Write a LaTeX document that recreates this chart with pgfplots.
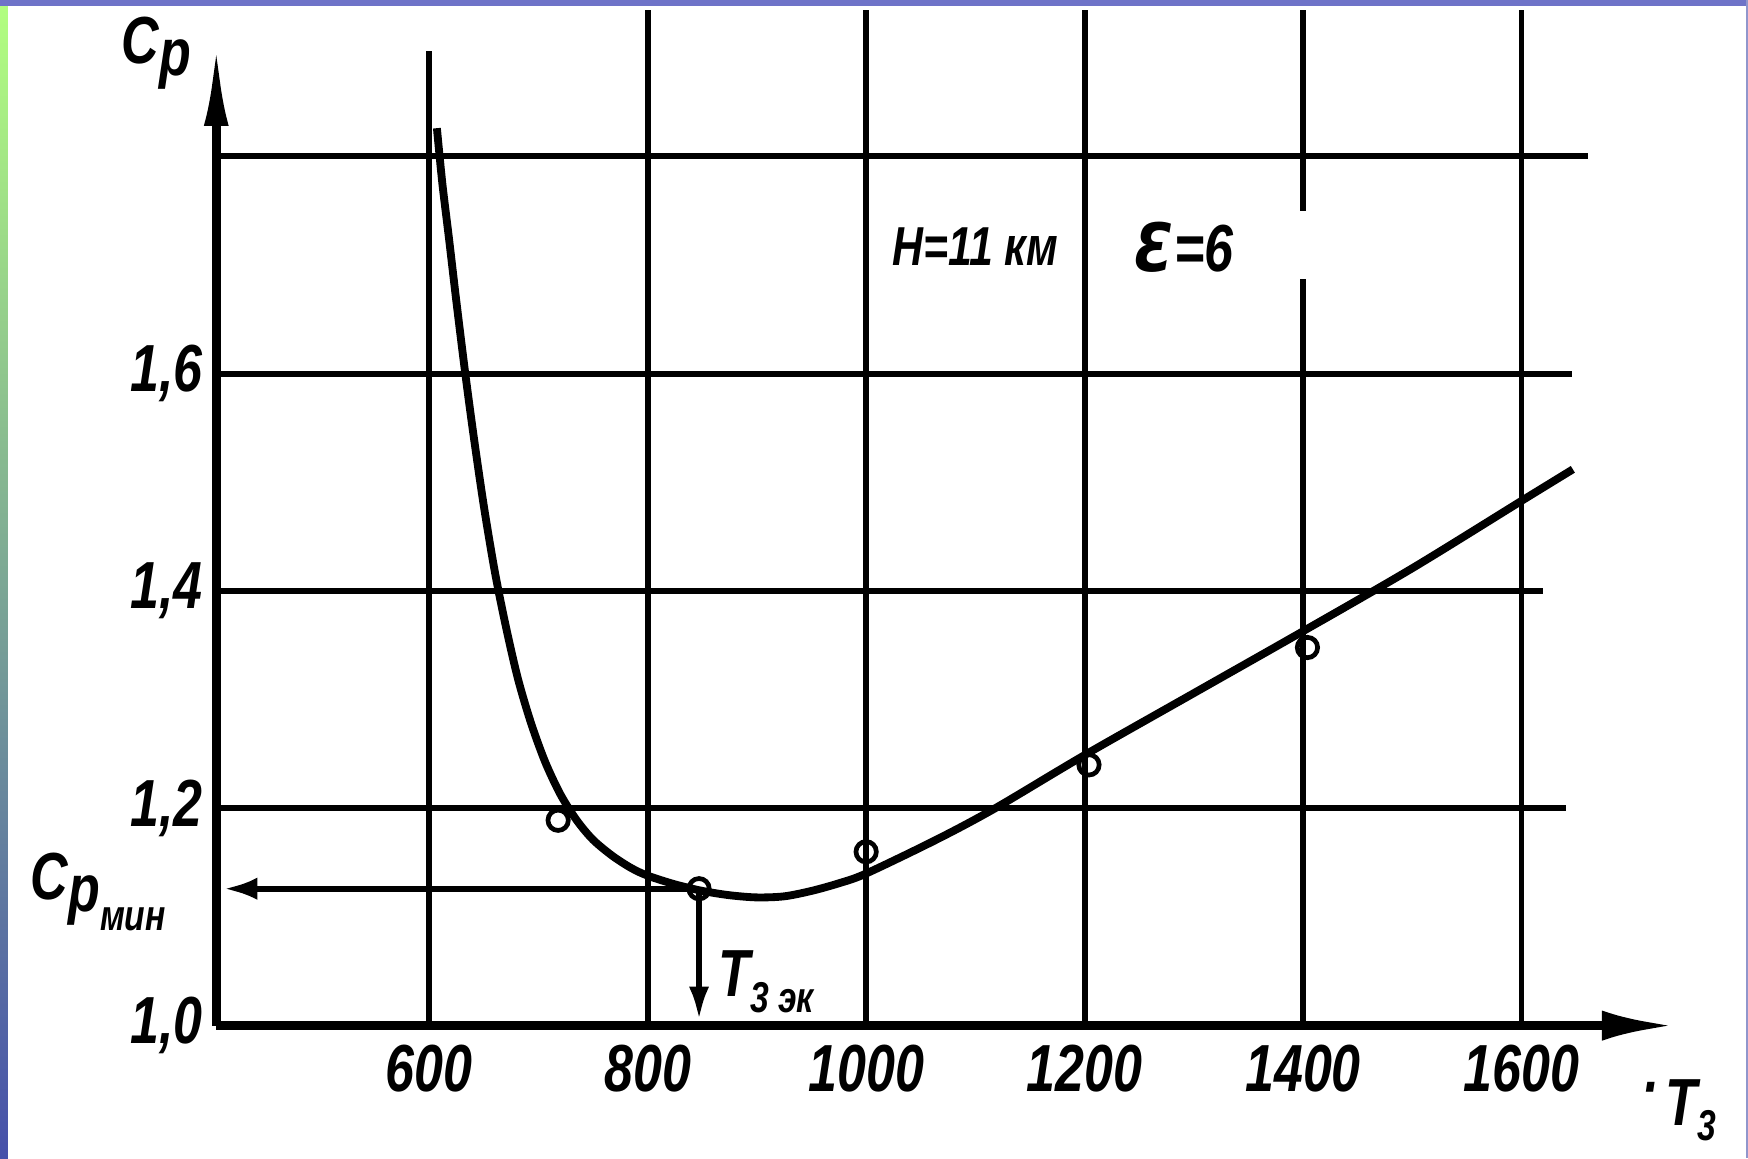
\documentclass[border=0pt]{standalone}
\usepackage{pgfplots}
\pgfplotsset{compat=1.18}
\usetikzlibrary{arrows.meta}
\usepackage{fontspec}
\setmainfont{Liberation Sans}
\newfontfamily\lab[FakeStretch=0.78]{Liberation Sans}
\newfontfamily\dv[FakeStretch=0.85]{DejaVu Sans}
\newcommand\tl{\lab\bfseries\itshape\fontsize{17}{17}\selectfont}
\newcommand\tm{\lab\bfseries\itshape\fontsize{14}{14}\selectfont}
\newcommand\ts{\lab\bfseries\itshape\fontsize{11}{11}\selectfont}
\definecolor{frameblue}{RGB}{70,80,170}
\definecolor{frametop}{RGB}{110,115,200}
\begin{document}
\begin{tikzpicture}
\useasboundingbox (-1.94cm,-1.19cm) rectangle (13.74cm,9.20cm);
\fill[white] (-1.94cm,-1.19cm) rectangle (13.74cm,9.20cm);
\shade[top color=yellow!40!green!50, bottom color=frameblue] (-1.94cm,-1.19cm) rectangle (-1.87cm,9.20cm);
\fill[frametop] (-1.94cm,9.15cm) rectangle (13.74cm,9.20cm);
\fill[frameblue!60] (13.72cm,-1.19cm) rectangle (13.74cm,9.20cm);
\begin{axis}[
  at={(0,0)}, anchor=south west,
  scale only axis, width=13.08cm, height=8.82cm,
  xmin=405, xmax=1740, ymin=1.0, ymax=1.905,
  axis lines=left,
  x axis line style={line width=2.2pt, -{Latex[length=0.65cm,width=0.27cm]}},
  y axis line style={line width=2.2pt, -{Latex[length=0.75cm,width=0.22cm]}},
  xtick={600,800,1000,1200,1400,1600},
  ytick={1.0,1.2,1.4,1.6},
  major tick length=0pt,
  /pgf/number format/assume math mode=true,
  xticklabel style={font=\tl, yshift=-0.05cm, /pgf/number format/1000 sep={}},
  yticklabel style={font=\tl, /pgf/number format/.cd, use comma, fixed, fixed zerofill, precision=1},
  clip=false,
]
% grid
\draw[line width=1.5pt] (axis cs:600,1.0) -- (axis cs:600,1.897);
\draw[line width=1.5pt] (axis cs:800,1.0) -- (axis cs:800,1.935);
\draw[line width=1.5pt] (axis cs:1000,1.0) -- (axis cs:1000,1.935);
\draw[line width=1.5pt] (axis cs:1200,1.0) -- (axis cs:1200,1.935);
\draw[line width=1.5pt] (axis cs:1400,1.0) -- (axis cs:1400,1.687);
\draw[line width=1.5pt] (axis cs:1400,1.75) -- (axis cs:1400,1.935);
\draw[line width=1.5pt] (axis cs:1600,1.0) -- (axis cs:1600,1.935);
\draw[line width=1.5pt] (axis cs:405,1.2) -- (axis cs:1641,1.2);
\draw[line width=1.5pt] (axis cs:405,1.4) -- (axis cs:1620,1.4);
\draw[line width=1.5pt] (axis cs:405,1.6) -- (axis cs:1646,1.6);
\draw[line width=1.5pt] (axis cs:405,1.8) -- (axis cs:1661,1.8);
% Cp min and T3 ek arrows
\draw[line width=1.5pt, -{Latex[length=0.3cm,width=0.2cm]}] (axis cs:847,1.126) -- (axis cs:412,1.126);
\draw[line width=1.5pt, -{Latex[length=0.3cm,width=0.18cm]}] (axis cs:847,1.126) -- (axis cs:847,1.005);
% curve
\addplot[line width=2pt, smooth, tension=0.5] coordinates {
(607,1.826) (612,1.775) (618,1.725) (625,1.665) (633,1.600) (641,1.540)
(650,1.478) (660,1.418) (670,1.368) (681,1.320) (693,1.279) (706,1.243)
(720,1.213) (735,1.189) (750,1.171) (768,1.156) (785,1.145) (800,1.138)
(825,1.130) (850,1.124) (875,1.120) (900,1.118) (925,1.119) (950,1.124)
(975,1.131) (1000,1.140) (1064,1.171) (1118,1.200) (1200,1.249)
(1300,1.306) (1400,1.363) (1500,1.421) (1600,1.483) (1647,1.512)
};
% measured points
\addplot[only marks, mark=o, mark size=2.6pt, mark options={line width=1.2pt, fill=white}] coordinates {
(718,1.189) (847,1.126) (1000,1.160) (1204,1.240) (1404,1.348)
};
% labels
\node at (axis cs:350,1.895) {\tl С\raisebox{-0.35ex}{р}};
\node at (axis cs:297,1.123) {\tl С\raisebox{-0.35ex}{р}\raisebox{-0.9ex}{\ts мин}};
\node[anchor=west] at (axis cs:852,1.04) {\tl Т\raisebox{-0.45ex}{\ts 3 эк}};
\node at (axis cs:1100,1.717) {\tm H=11 км};
\node at (axis cs:1291,1.716) {\tl {\dv\bfseries\itshape Ɛ}=6};
\node at (axis cs:1755,0.922) {\tl Т\raisebox{-0.45ex}{\ts 3}};
\node at (axis cs:1718,0.935) {\tl ·};
\end{axis}
\end{tikzpicture}
\end{document}
